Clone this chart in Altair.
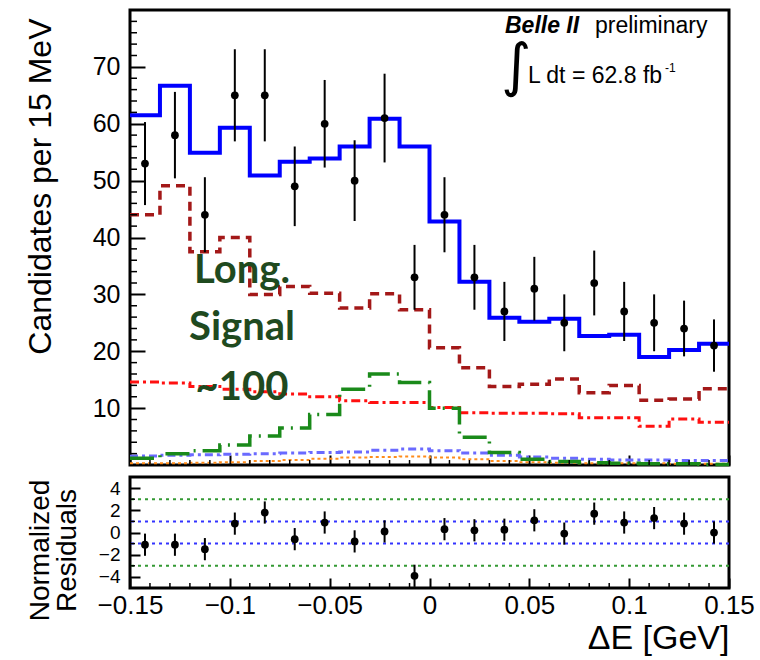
import altair as alt
import pandas as pd

FONT = "Liberation Sans"

# ---------------- data ----------------
edges = [-0.15, -0.135, -0.12, -0.105, -0.09, -0.075, -0.06, -0.045, -0.03, -0.015,
         0.0, 0.015, 0.03, 0.045, 0.06, 0.075, 0.09, 0.105, 0.12, 0.135, 0.15]
centers = [-0.1425, -0.1275, -0.1125, -0.0975, -0.0825, -0.0675, -0.0525, -0.0375,
           -0.0225, -0.0075, 0.0075, 0.0225, 0.0375, 0.0525, 0.0675, 0.0825, 0.0975,
           0.1125, 0.1275, 0.1425]

data_counts = [53, 58, 44, 65, 65, 49, 60, 50, 61, 33, 44, 33, 27, 31, 25, 32, 27, 25, 24, 21]
data_err = [7.3, 7.6, 6.6, 8.1, 8.1, 7.0, 7.7, 7.1, 7.8, 5.7, 6.6, 5.7, 5.2, 5.6, 5.0, 5.7, 5.2, 5.0, 4.9, 4.6]

total_fit = [61.5, 66.7, 54.9, 59.3, 50.9, 53.3, 53.9, 56.0, 60.9, 56.0, 42.8, 32.2, 25.9, 25.2,
             25.7, 22.7, 22.9, 19.0, 20.2, 21.3]
bkg_darkred = [44.0, 49.1, 37.5, 40.0, 30.0, 31.4, 30.2, 27.6, 30.1, 27.3, 20.6, 17.1, 13.8, 14.2,
               15.1, 12.7, 14.0, 11.4, 11.6, 13.4]
bkg_red = [14.6, 14.4, 13.8, 13.3, 12.9, 12.5, 12.0, 11.3, 11.0, 11.0, 10.1, 9.2, 9.1, 9.1, 9.0,
           8.3, 8.3, 6.8, 8.1, 7.5]
signal = [1.2, 2.0, 2.5, 3.5, 5.1, 6.5, 8.9, 13.3, 16.0, 14.5, 10.0, 4.9, 2.2, 1.0, 0.6, 0.4,
          0.3, 0.2, 0.2, 0.1]
bkg_blue = [1.6, 1.7, 1.8, 1.9, 2.0, 2.1, 2.2, 2.3, 2.6, 2.8, 2.5, 2.1, 1.7, 1.4, 1.2, 1.0, 0.9,
            0.9, 0.8, 0.8]
bkg_orange = [0.3, 0.3, 0.4, 0.5, 0.7, 0.9, 1.1, 1.3, 1.4, 1.5, 1.3, 1.0, 0.7, 0.5, 0.4, 0.3,
              0.3, 0.3, 0.2, 0.2]

residuals = [-1.1, -1.1, -1.5, 0.8, 1.8, -0.6, 0.9, -0.8, 0.1, -3.9, 0.3, 0.2, 0.25, 1.1, -0.1,
             1.7, 0.9, 1.3, 0.8, 0.0]
residual_err = [1.0] * 20

x_major = [-0.15, -0.1, -0.05, 0.0, 0.05, 0.1, 0.15]
x_minor = [-0.14, -0.13, -0.12, -0.11, -0.09, -0.08, -0.07, -0.06, -0.04, -0.03, -0.02, -0.01,
           0.01, 0.02, 0.03, 0.04, 0.06, 0.07, 0.08, 0.09, 0.11, 0.12, 0.13, 0.14]
y_major = [10, 20, 30, 40, 50, 60, 70]
y_minor = [2, 4, 6, 8, 12, 14, 16, 18, 22, 24, 26, 28, 32, 34, 36, 38, 42, 44, 46, 48,
           52, 54, 56, 58, 62, 64, 66, 68, 72, 74, 76, 78]
r_major = [-4, -2, 0, 2, 4]
r_minor = [-3, -1, 1, 3]
green_lines = [3, -3]
blue_lines = [1, -1]

W, H_TOP, H_RES = 599, 455, 111

# ---------------- scales / axes ----------------
xscale = alt.Scale(domain=[-0.15, 0.15], nice=False, zero=False)
yscale = alt.Scale(domain=[0, 80], nice=False, zero=False)
rscale = alt.Scale(domain=[-5, 5], nice=False, zero=False)

x_axis_top = alt.Axis(values=x_major, tickSize=10, offset=-10, domain=False, grid=False,
                      labels=False, title=None, tickColor="black", tickWidth=2)
y_axis_top = alt.Axis(values=y_major, tickSize=15, offset=-15, domain=False, grid=False,
                      labelFont=FONT, labelFontSize=25, labelPadding=10, labelColor="black",
                      tickColor="black", tickWidth=2,
                      title="Candidates per 15 MeV", titleFont=FONT, titleFontSize=32,
                      titleFontWeight="normal", titleColor="black", titleAngle=270,
                      titleAlign="right", titleBaseline="alphabetic", titleX=-95, titleY=8)

x_axis_res = alt.Axis(values=x_major, tickSize=10, offset=-10, domain=False, grid=False,
                      format=".2~f", labelFont=FONT, labelFontSize=26, labelPadding=4,
                      labelColor="black", labelFlush=False, labelOverlap=False,
                      tickColor="black", tickWidth=2,
                      title="ΔE [GeV]", titleFont=FONT, titleFontSize=34,
                      titleFontWeight="normal", titleColor="black", titleAlign="right",
                      titleBaseline="alphabetic", titleX=W, titleY=70)
y_axis_res = alt.Axis(values=r_major, tickSize=10, offset=-10, domain=False, grid=False,
                      labelFont=FONT, labelFontSize=19, labelPadding=10, labelColor="black",
                      tickColor="black", tickWidth=2,
                      title=["Normalized", "Residuals"], titleFont=FONT, titleFontSize=28,
                      titleFontWeight="normal", titleColor="black", titleAngle=270,
                      titleAlign="center", titleBaseline="alphabetic", titleX=-92, titleY=73,
                      titleLineHeight=27)


def X(field="x"):
    return alt.X(f"{field}:Q", scale=xscale, axis=x_axis_top)


def Y(field="y"):
    return alt.Y(f"{field}:Q", scale=yscale, axis=y_axis_top)


def step_layer(vals, color, width, dash=None):
    df = pd.DataFrame({"x": edges, "y": vals + [vals[-1]]})
    kw = dict(interpolate="step-after", color=color, strokeWidth=width)
    if dash:
        kw["strokeDash"] = dash
    return alt.Chart(df).mark_line(**kw).encode(x=X(), y=Y())


data_df = pd.DataFrame({
    "x": centers, "y": data_counts,
    "lo": [c - e for c, e in zip(data_counts, data_err)],
    "hi": [c + e for c, e in zip(data_counts, data_err)],
})

layers_top = [
    step_layer(bkg_orange, "#ff8c1a", 2, [3, 3]),
    step_layer(bkg_blue, "#6a6aff", 3, [8, 4, 3, 4]),
    step_layer(bkg_red, "#ff1010", 3, [9, 4, 3, 4]),
    step_layer(signal, "#1a8a1a", 3.5, [24, 7, 2, 7]),
    step_layer(bkg_darkred, "#a31818", 3.5, [9, 6]),
    step_layer(total_fit, "#0000ff", 4),
    alt.Chart(data_df).mark_rule(color="black", strokeWidth=2).encode(x=X(), y=Y("lo"), y2="hi"),
    alt.Chart(data_df).mark_circle(color="black", size=60, opacity=1).encode(x=X(), y=Y()),
    alt.Chart(pd.DataFrame({"v": y_minor})).mark_rule(color="black", strokeWidth=1.5).encode(
        y=Y("v"), x=alt.value(0), x2=alt.value(7)),
    alt.Chart(pd.DataFrame({"v": x_minor})).mark_rule(color="black", strokeWidth=1.5).encode(
        x=X("v"), y=alt.value(H_TOP), y2=alt.value(H_TOP - 5)),
]


def label(text, x, y, size, font=FONT, weight="normal", style="normal", color="black",
          align="left", baseline="alphabetic"):
    return alt.Chart(pd.DataFrame({"t": [text]})).mark_text(
        font=font, fontSize=size, fontWeight=weight, fontStyle=style, color=color,
        align=align, baseline=baseline).encode(
        text="t:N", x=alt.value(x), y=alt.value(y))


GREEN_TXT = "#1f4a1f"
layers_top += [
    label("Belle II", 375, 23, 23, weight="bold", style="italic"),
    label("preliminary", 465, 23, 23),
    label("∫", 371, 75, 58, font="DejaVu Sans"),
    label("L dt = 62.8 fb", 398, 73, 23),
    label("-1", 535, 62, 12),
    label("Long.", 112, 273, 40, font="Lato", weight="bold", color=GREEN_TXT, align="center"),
    label("Signal", 112, 330, 40, font="Lato", weight="bold", color=GREEN_TXT, align="center"),
    label("~100", 112, 390, 40, font="Lato", weight="bold", color=GREEN_TXT, align="center"),
]

top = alt.layer(*layers_top).properties(width=W, height=H_TOP)

# ---------------- residual panel ----------------
def RX(field="x"):
    return alt.X(f"{field}:Q", scale=xscale, axis=x_axis_res)


def RY(field="y"):
    return alt.Y(f"{field}:Q", scale=rscale, axis=y_axis_res)


res_df = pd.DataFrame({
    "x": centers, "y": residuals,
    "lo": [r - e for r, e in zip(residuals, residual_err)],
    "hi": [r + e for r, e in zip(residuals, residual_err)],
})

layers_res = [
    alt.Chart(pd.DataFrame({"v": green_lines})).mark_rule(
        color="#339933", strokeWidth=2, strokeDash=[3, 4]).encode(y=RY("v")),
    alt.Chart(pd.DataFrame({"v": blue_lines})).mark_rule(
        color="#3333ff", strokeWidth=2, strokeDash=[3, 4]).encode(y=RY("v")),
    alt.Chart(res_df).mark_rule(color="black", strokeWidth=2).encode(x=RX(), y=RY("lo"), y2="hi"),
    alt.Chart(res_df).mark_circle(color="black", size=60, opacity=1).encode(x=RX(), y=RY()),
    alt.Chart(pd.DataFrame({"v": r_minor})).mark_rule(color="black", strokeWidth=1.5).encode(
        y=RY("v"), x=alt.value(0), x2=alt.value(5)),
    alt.Chart(pd.DataFrame({"v": x_minor})).mark_rule(color="black", strokeWidth=1.5).encode(
        x=RX("v"), y=alt.value(H_RES), y2=alt.value(H_RES - 5)),
]

bottom = alt.layer(*layers_res).properties(width=W, height=H_RES)

chart = alt.vconcat(top, bottom, spacing=2).resolve_scale(
    x="independent", y="independent").properties(
    padding={"left": 22, "top": 8, "right": 0, "bottom": 0},
    background="white",
).configure_view(stroke="black", strokeWidth=3)

chart.save("out.html", embed_options={"renderer": "svg", "actions": False})
